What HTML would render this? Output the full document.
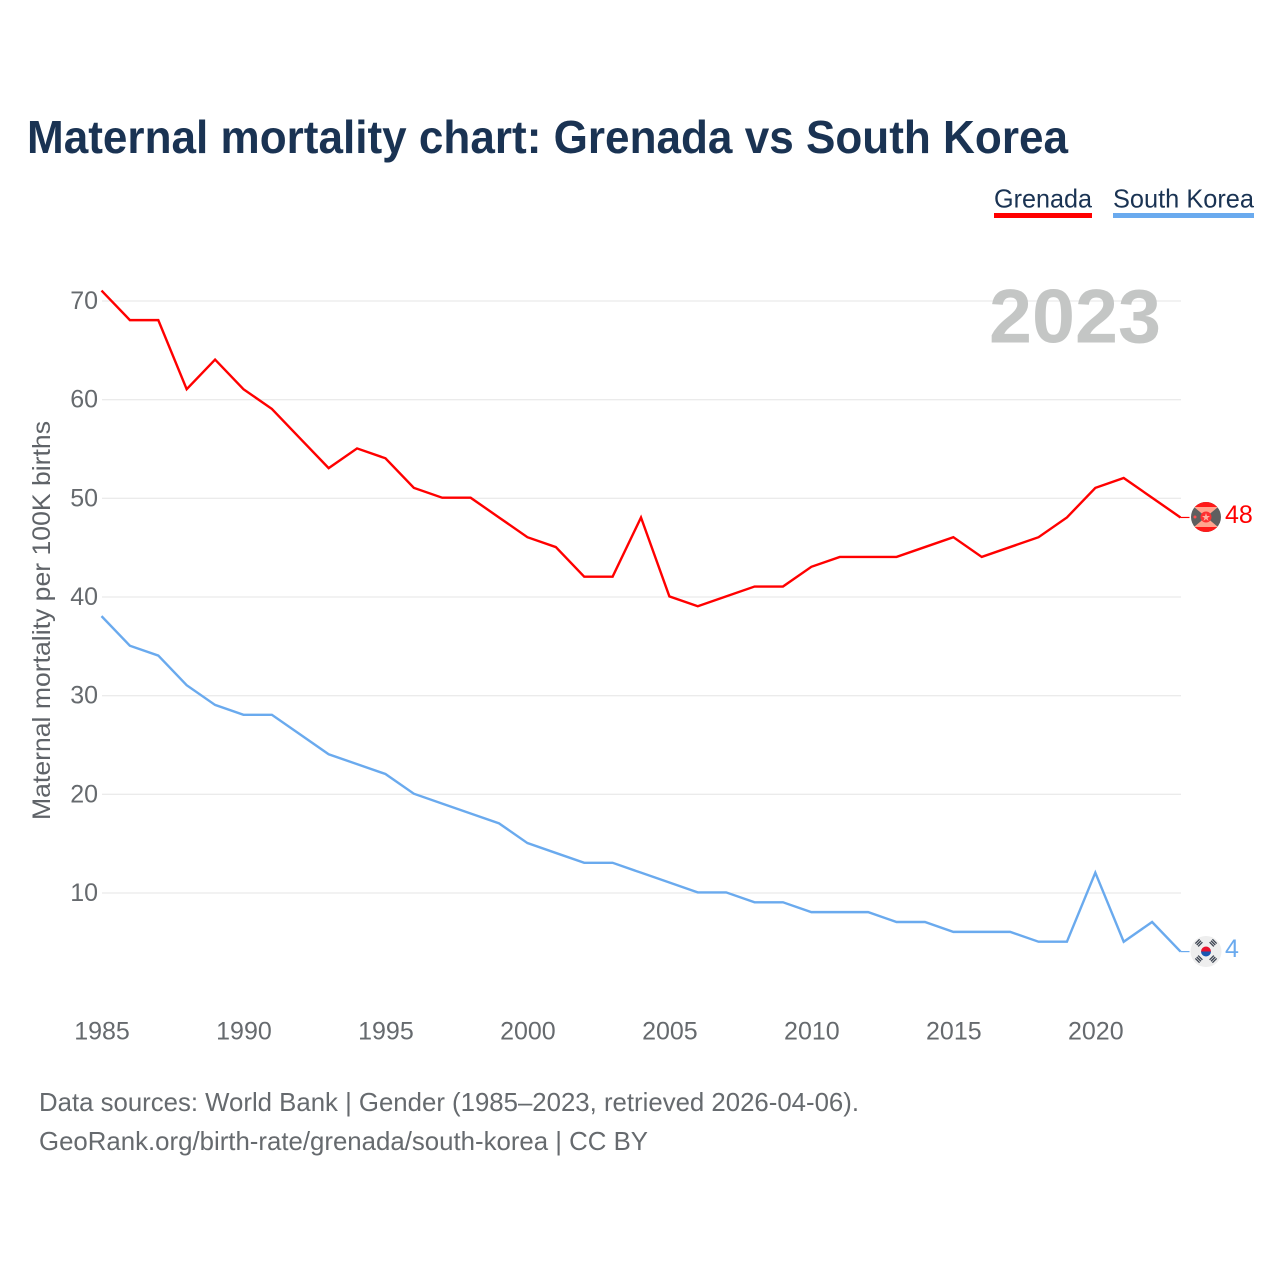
<!DOCTYPE html>
<html lang="en">
<head>
<meta charset="utf-8">
<title>Maternal mortality chart: Grenada vs South Korea</title>
<style>
html,body{margin:0;padding:0;background:#fff;width:1280px;height:1280px;overflow:hidden}
svg{display:block;font-family:"Liberation Sans",Arial,sans-serif}
</style>
</head>
<body>
<svg id="chart" width="1280" height="1280" viewBox="0 0 1280 1280" xmlns="http://www.w3.org/2000/svg">
  <defs>
    <clipPath id="gd-clip"><circle cx="1206" cy="517" r="15"/></clipPath>
    <clipPath id="kr-clip"><circle cx="1206" cy="951.5" r="15.5"/></clipPath>
  </defs>
  <rect x="0" y="0" width="1280" height="1280" fill="#fff"/>
  <text x="27" y="153" font-size="46" font-weight="700" fill="#1a3353" textLength="1041" lengthAdjust="spacingAndGlyphs">Maternal mortality chart: Grenada vs South Korea</text>

  <g>
    <text x="994" y="207.500" font-size="26" fill="#1a3353" textLength="98" lengthAdjust="spacingAndGlyphs">Grenada</text>
    <rect x="994" y="213" width="98" height="5" fill="#ff0000"/>
  </g>
  <g>
    <text x="1113" y="207.500" font-size="26" fill="#1a3353" textLength="141" lengthAdjust="spacingAndGlyphs">South Korea</text>
    <rect x="1113" y="213" width="141" height="5" fill="#6aaaee"/>
  </g>

  <g id="grid"></g>
  <text x="989" y="342.500" font-size="76" font-weight="700" fill="#c2c4c3" fill-opacity="0.96" textLength="172" lengthAdjust="spacingAndGlyphs">2023</text>
  <g id="yticks"></g>
  <g id="xticks"></g>

  <text transform="translate(50,820) rotate(-90)" x="0" y="0" font-size="25" fill="#5f6368" textLength="399" lengthAdjust="spacingAndGlyphs">Maternal mortality per 100K births</text>

  <g id="series"></g>

  <g clip-path="url(#gd-clip)">
    <rect x="1190" y="501" width="32" height="32" fill="#5f5f5f"/>
    <polygon points="1194,507 1218,507 1206,517" fill="#ffa58f"/>
    <polygon points="1194,527 1218,527 1206,517" fill="#ffa58f"/>
    <rect x="1190" y="501" width="32" height="6" fill="#ff1a1a"/>
    <rect x="1190" y="527" width="32" height="6" fill="#ff1a1a"/>
    <circle cx="1206" cy="517" r="5.500" fill="#ff3030"/>
    <polygon points="1206,513 1207,516 1210,516 1207.500,518 1208.500,521 1206,519 1203.500,521 1204.500,518 1202,516 1205,516" fill="#ffb0a0"/>
    <circle cx="1195" cy="517" r="1.500" fill="#ff5050"/>
  </g>
  <g clip-path="url(#kr-clip)">
    <rect x="1190" y="935" width="32" height="33" fill="#eeeeee"/>
    <path d="M1201,951.500 a5,5 0 0 1 10,0 z" fill="#e8112d"/>
    <path d="M1201,951.500 a5,5 0 0 0 10,0 z" fill="#1a56b0"/>
    <g stroke="#3a4250" stroke-width="6" stroke-dasharray="1.300 0.700" fill="none">
      <line x1="1197" y1="941" x2="1201" y2="945"/>
      <line x1="1215" y1="941" x2="1211" y2="945"/>
      <line x1="1197" y1="961" x2="1201" y2="957"/>
      <line x1="1215" y1="961" x2="1211" y2="957"/>
    </g>
  </g>
  <text x="1225" y="523" font-size="25" fill="#ff0000">48</text>
  <text x="1225" y="957" font-size="25" fill="#6aaaee">4</text>

  <text x="39" y="1111" font-size="26" fill="#666a6e" textLength="820" lengthAdjust="spacingAndGlyphs">Data sources: World Bank | Gender (1985–2023, retrieved 2026-04-06).</text>
  <text x="39" y="1150" font-size="26" fill="#666a6e" textLength="609" lengthAdjust="spacingAndGlyphs">GeoRank.org/birth-rate/grenada/south-korea | CC BY</text>
</svg>
<script>
const years = [1985,1986,1987,1988,1989,1990,1991,1992,1993,1994,1995,1996,1997,1998,1999,2000,2001,2002,2003,2004,2005,2006,2007,2008,2009,2010,2011,2012,2013,2014,2015,2016,2017,2018,2019,2020,2021,2022,2023];
const grenadaValues = [71,68,68,61,64,61,59,56,53,55,54,51,50,50,48,46,45,42,42,48,40,39,40,41,41,43,44,44,44,45,46,44,45,46,48,51,52,50,48];
const southKoreaValues = [38,35,34,31,29,28,28,26,24,23,22,20,19,18,17,15,14,13,13,12,11,10,10,9,9,8,8,8,7,7,6,6,6,5,5,12,5,7,4];
const yTickValues = [10,20,30,40,50,60,70];
const xTickValues = [1985,1990,1995,2000,2005,2010,2015,2020];

const NS = 'http://www.w3.org/2000/svg';
function xScale(year){ return 102 + (year - 1985) * (1181 - 102) / (2023 - 1985); }
function yScale(value){ return 893 - (value - 10) * (893 - 301) / 60; }

const grid = document.getElementById('grid');
const yticks = document.getElementById('yticks');
const xticks = document.getElementById('xticks');
const seriesGroup = document.getElementById('series');

yTickValues.forEach(function(v){
  const line = document.createElementNS(NS, 'line');
  
  
  line.setAttribute('x1', 102);
  line.setAttribute('x2', 1181);
  line.setAttribute('y1', yScale(v));
  line.setAttribute('y2', yScale(v));
  line.setAttribute('stroke', '#ebebeb');
  line.setAttribute('stroke-width', '1.3');
  grid.appendChild(line);

  const label = document.createElementNS(NS, 'text');
  
  
  label.setAttribute('x', 98);
  label.setAttribute('y', yScale(v) + 8);
  label.setAttribute('text-anchor', 'end');
  label.setAttribute('font-size', '25');
  label.setAttribute('fill', '#666a6e');
  label.textContent = v;
  yticks.appendChild(label);
});

xTickValues.forEach(function(y){
  const label = document.createElementNS(NS, 'text');
  
  
  label.setAttribute('x', xScale(y));
  label.setAttribute('y', 1039.5);
  label.setAttribute('text-anchor', 'middle');
  label.setAttribute('font-size', '25');
  label.setAttribute('fill', '#666a6e');
  label.textContent = y;
  xticks.appendChild(label);
});

function drawSeries(values, colour){
  const pts = values.map(function(v, i){ return (xScale(years[i]) - 0.5).toFixed(2) + ',' + (yScale(v) - 0.6).toFixed(2); });
  const line = document.createElementNS(NS, 'polyline');
  
  
  line.setAttribute('points', pts.join(' '));
  line.setAttribute('fill', 'none');
  line.setAttribute('stroke', colour);
  line.setAttribute('stroke-width', '2.4');
  line.setAttribute('stroke-linejoin', 'miter');
  seriesGroup.appendChild(line);

  const lastY = yScale(values[values.length - 1]) - 0.6;
  const lastX = xScale(years[years.length - 1]) - 0.5;
  const stub = document.createElementNS(NS, 'line');
  
  
  stub.setAttribute('x1', lastX);
  stub.setAttribute('x2', lastX + 9);
  stub.setAttribute('y1', lastY);
  stub.setAttribute('y2', lastY);
  stub.setAttribute('stroke', colour);
  stub.setAttribute('stroke-width', '1.2');
  seriesGroup.appendChild(stub);
}
drawSeries(grenadaValues, '#ff0000');
drawSeries(southKoreaValues, '#6aaaee');
</script>
</body>
</html>
